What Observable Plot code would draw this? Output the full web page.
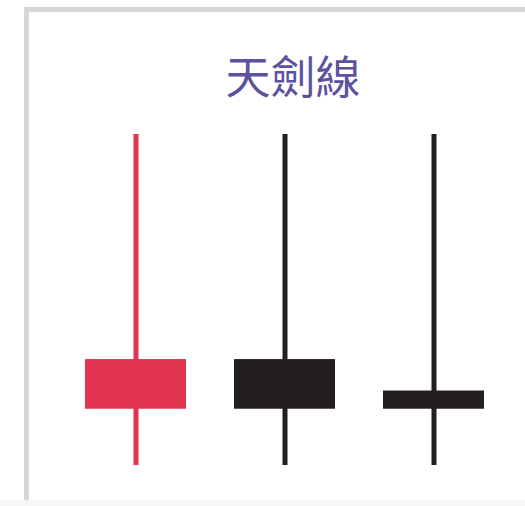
<!DOCTYPE html>
<html>
<head>
<meta charset="utf-8">
<script src="https://cdn.jsdelivr.net/npm/d3@7"></script>
<script src="https://cdn.jsdelivr.net/npm/@observablehq/plot@0.6"></script>
<style>
  html, body { margin: 0; padding: 0; background: #fff; }
  #wrap { position: relative; width: 525px; height: 506px; overflow: hidden; }
  #border { position: absolute; left: 24px; top: 7px; width: 600px; height: 493px;
            border-left: 5px solid #d6d6d6; border-top: 5px solid #d6d6d6; pointer-events: none; }
  #bottom { position: absolute; left: 0; top: 500px; width: 525px; height: 6px; background: #f6f6f6; }
</style>
</head>
<body>
<div id="wrap"></div>
<script>
const title = "天劍線";
const names = ["A", "B", "C"];
const opens = [17, 32, 22.5];
const closes = [32, 17, 17];
const highs = [100, 100, 100];
const lows = [0, 0, 0];
const colors = ["#e0344f", "#231f20", "#231f20"];

const data = names.map((n, i) => ({
  name: n, open: opens[i], close: closes[i], high: highs[i], low: lows[i], color: colors[i]
}));

const chart = Plot.plot({
  width: 525,
  height: 506,
  margin: 0,
  x: {type: "band", domain: names, range: [37, 533], padding: 0.322, axis: null},
  y: {domain: [0, 100], range: [465, 134], axis: null},
  style: {background: "transparent"},
  marks: [
    Plot.ruleX(data, {x: "name", y1: "low", y2: "high", stroke: "color", strokeWidth: 5}),
    Plot.barY(data, {x: "name", y1: "open", y2: "close", fill: "color"}),
    Plot.text([title], {
      frameAnchor: "top", lineAnchor: "top", dx: 30, dy: 62,
      text: d => d, fontSize: 45, fill: "#5d51a0",
      fontFamily: "Noto Sans CJK TC, sans-serif"
    })
  ]
});

const wrap = document.getElementById("wrap");
wrap.appendChild(chart);
const b = document.createElement("div"); b.id = "border"; wrap.appendChild(b);
const bt = document.createElement("div"); bt.id = "bottom"; wrap.appendChild(bt);
chart.style.position = "absolute";
chart.style.left = "0";
chart.style.top = "0";
</script>
</body>
</html>
